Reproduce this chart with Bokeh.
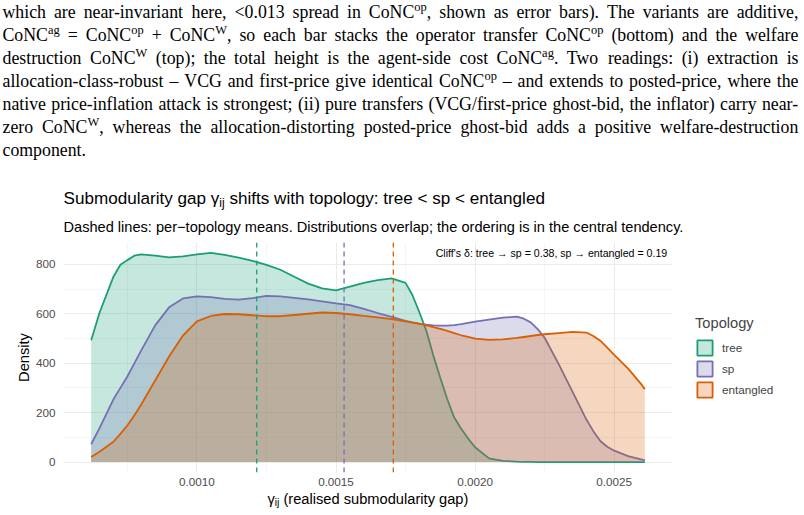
import re
from bokeh.plotting import figure
from bokeh.models import (Range1d, FixedTicker, Span, Legend, LegendItem, Label,
                          BoxAnnotation, ColumnDataSource, PrintfTickFormatter)
from bokeh.embed import file_html
from bokeh.resources import INLINE
from bokeh.core.properties import value, field

# ---------------- data ----------------
gamma = [0.00062, 0.00065, 0.00070, 0.000725, 0.00075, 0.000775, 0.00080, 0.00085, 0.00090, 0.00095,
         0.00100, 0.00105, 0.00110, 0.00115, 0.00120, 0.00125, 0.00130, 0.00135, 0.00140, 0.00145,
         0.00150, 0.00155, 0.00160, 0.00165, 0.00170, 0.00175, 0.001775, 0.00180, 0.001825, 0.00185,
         0.001875, 0.00190, 0.001925, 0.00195, 0.001975, 0.00200, 0.00205, 0.00210, 0.00215, 0.002175,
         0.00220, 0.002225, 0.00225, 0.00230, 0.00235, 0.00240, 0.002425, 0.00245, 0.002475, 0.00250,
         0.00255, 0.00260, 0.00261]
density_tree = [493, 604, 750, 798, 817, 835, 840, 835, 828, 832,
                840, 846, 838, 827, 814, 798, 778, 750, 722, 703,
                695, 710, 725, 736, 743, 725, 675, 605, 530, 430,
                340, 254, 180, 135, 95, 60, 15, 5, 2, 1,
                1, 0, 0, 0, 0, 0, 0, 0, 0, 0,
                0, 0, 0]
density_sp = [72, 137, 254, 300, 346, 399, 452, 553, 626, 662,
              670, 667, 660, 657, 663, 672, 670, 664, 658, 650,
              642, 635, 620, 603, 587, 571, 565, 560, 556, 553,
              552, 552, 554, 558, 563, 568, 576, 584, 588, 580,
              565, 538, 503, 397, 285, 172, 125, 85, 62, 46,
              24, 10, 8]
density_entangled = [20, 42, 82, 114, 148, 188, 233, 330, 427, 512,
                     569, 591, 599, 598, 594, 590, 590, 595, 600, 605,
                     603, 598, 591, 585, 578, 569, 564, 559, 553, 546,
                     539, 531, 522, 513, 506, 499, 494, 496, 502, 506,
                     510, 514, 517, 522, 527, 524, 510, 491, 463, 434,
                     378, 311, 295]
topologies = ["tree", "sp", "entangled"]
topology_means = [0.001215, 0.001529, 0.001706]
cliffs_pairs = ["tree \u2192 sp", "sp \u2192 entangled"]
cliffs_values = [0.38, 0.19]
x_ticks = [0.0010, 0.0015, 0.0020, 0.0025]
x_minor_ticks = [0.00075, 0.00125, 0.00175, 0.00225]
y_ticks = [0, 200, 400, 600, 800]
y_minor_ticks = [100, 300, 500, 700]

# ---------------- texts ----------------
PARAGRAPH_LINES = [
    "which are near-invariant here, <0.013 spread in CoNC^{op}, shown as error bars). The variants are additive,",
    "CoNC^{ag} = CoNC^{op} + CoNC^{W}, so each bar stacks the operator transfer CoNC^{op} (bottom) and the welfare",
    "destruction CoNC^{W} (top); the total height is the agent-side cost CoNC^{ag}. Two readings: (i) extraction is",
    "allocation-class-robust \u2013 VCG and first-price give identical CoNC^{op} \u2013 and extends to posted-price, where the",
    "native price-inflation attack is strongest; (ii) pure transfers (VCG/first-price ghost-bid, the inflator) carry near-",
    "zero CoNC^{W}, whereas the allocation-distorting posted-price ghost-bid adds a positive welfare-destruction",
    "component.",
]
TITLE_RUNS = [("Submodularity gap \u03b3", False), ("ij", True),
              (" shifts with topology: tree < sp < entangled", False)]
SUBTITLE_RUNS = [("Dashed lines: per\u2212topology means. Distributions overlap; the ordering is in the central tendency.", False)]
XLABEL_RUNS = [("\u03b3", False), ("ij", True), (" (realised submodularity gap)", False)]
YLABEL = "Density"
LEGEND_TITLE = "Topology"

# ---------------- styles / layout ----------------
COLORS = ["#1B9E77", "#7570B3", "#D95F02"]
W = 804
TOP_H, CHART_H, BOTTOM_H = 240, 251, 24
CHART_TOP_BORDER = 2
PANEL_L, PANEL_R = 63, 672          # ggplot panel in page pixels
SANS = "Liberation Sans"
SERIF = "Liberation Serif"
SANS_MID = 0.3465                   # em-box middle above baseline (Liberation Sans)
SERIF_MID = 0.3375                  # em-box middle above baseline (Liberation Serif)

TIMES = {' ': 250, '!': 333, '(': 333, ')': 333, '+': 564, ',': 250, '-': 333, '.': 250,
         '/': 278, ':': 278, ';': 278, '<': 564, '=': 564, '>': 564, "'": 180,
         '\u2013': 500, '\u2014': 1000,
         'A': 722, 'B': 667, 'C': 667, 'D': 722, 'E': 611, 'F': 556, 'G': 722, 'H': 722,
         'I': 333, 'J': 389, 'K': 722, 'L': 611, 'M': 889, 'N': 722, 'O': 722, 'P': 556,
         'Q': 722, 'R': 667, 'S': 556, 'T': 611, 'U': 722, 'V': 722, 'W': 944, 'X': 722,
         'Y': 722, 'Z': 611,
         'a': 444, 'b': 500, 'c': 444, 'd': 500, 'e': 444, 'f': 333, 'g': 500, 'h': 500,
         'i': 278, 'j': 278, 'k': 500, 'l': 278, 'm': 778, 'n': 500, 'o': 500, 'p': 500,
         'q': 500, 'r': 333, 's': 389, 't': 278, 'u': 500, 'v': 500, 'w': 722, 'x': 500,
         'y': 500, 'z': 444}
TIMES.update({str(d): 500 for d in range(10)})
ARIAL = {' ': 278, '(': 333, ')': 333, ',': 278, '-': 333, '.': 278, ':': 278, ';': 278,
         '<': 584, '=': 584, "'": 191, '\u2212': 584, '\u2192': 1000, '\u03b3': 500,
         '\u03b4': 556, 'C': 722, 'D': 722, 'S': 667, 'T': 611,
         'a': 556, 'b': 556, 'c': 500, 'd': 556, 'e': 556, 'f': 278, 'g': 556, 'h': 556,
         'i': 222, 'j': 222, 'k': 500, 'l': 222, 'm': 833, 'n': 556, 'o': 556, 'p': 556,
         'q': 556, 'r': 333, 's': 500, 't': 278, 'u': 556, 'v': 500, 'w': 722, 'x': 500,
         'y': 500, 'z': 500}
ARIAL.update({str(d): 556 for d in range(10)})


def tw(text, table, size):
    return sum(table.get(ch, 550) for ch in text) / 1000.0 * size


class TextBank:
    """Text runs in figure pixels; y is the vertical middle of each run's em box."""

    def __init__(self):
        self.x, self.y, self.t, self.s = [], [], [], []

    def add(self, X, Y, text, size):
        self.x.append(X)
        self.y.append(Y)
        self.t.append(text)
        self.s.append(f"{size:.2f}px")

    def runs(self, runs, x0, mid, size, sub_scale, sub_drop, table):
        x = x0
        for text, is_sub in runs:
            s = size * sub_scale if is_sub else size
            stripped = text.lstrip(" ")
            x += tw(text[:len(text) - len(stripped)], table, s)
            y = mid + (SANS_MID * (size - s) + sub_drop if is_sub else 0)
            self.add(x, y, stripped, s)
            x += tw(stripped, table, s)

    def draw(self, fig, font, color):
        src = ColumnDataSource(dict(x=self.x, y=self.y, t=self.t, s=self.s))
        fig.text(x="x", y="y", text="t", source=src, text_font=value(font),
                 text_font_size=field("s"), text_color=color,
                 text_baseline="middle", text_align="left")


def pixel_fig(h):
    f = figure(width=W, height=h, x_range=Range1d(0, W), y_range=Range1d(h, 0),
               output_backend="svg", toolbar_location=None,
               min_border_left=0, min_border_right=0, min_border_top=0, min_border_bottom=0,
               x_axis_type=None, y_axis_type=None, outline_line_color=None)
    f.grid.visible = False
    return f


# ---------------- top: paragraph, title, subtitle ----------------
top = pixel_fig(TOP_H)
para = TextBank()
PARA_SIZE, PARA_LEFT, PARA_RIGHT = 17.8, 2.0, 798.0
PARA_MID0, PARA_LEAD = 11.0, 23.0
SUP_SCALE, SUP_RISE = 0.7, 0.36
for i, line in enumerate(PARAGRAPH_LINES):
    words = []
    for w in line.split(" "):
        segs = []
        for part in re.split(r"(\^\{[^}]*\})", w):
            if not part:
                continue
            if part.startswith("^{"):
                segs.append((part[2:-1], True))
            else:
                segs.append((part, False))
        words.append(segs)
    size = PARA_SIZE

    def word_w(segs, size):
        return sum(tw(t, TIMES, size * SUP_SCALE if sup else size) for t, sup in segs)

    total = sum(word_w(ws, size) for ws in words)
    ngaps = len(words) - 1
    if i == len(PARAGRAPH_LINES) - 1 or ngaps == 0:
        gap = 0.25 * size
    else:
        gap = (PARA_RIGHT - PARA_LEFT - total) / ngaps
        while gap < 0.18 * size:
            size -= 0.1
            total = sum(word_w(ws, size) for ws in words)
            gap = (PARA_RIGHT - PARA_LEFT - total) / ngaps
    x = PARA_LEFT
    mid = PARA_MID0 + i * PARA_LEAD
    for ws in words:
        for t, sup in ws:
            s = size * SUP_SCALE if sup else size
            y = mid + (SERIF_MID * (size - s) - SUP_RISE * size if sup else 0)
            para.add(x, y, t, s)
            x += tw(t, TIMES, s)
        x += gap
para.draw(top, SERIF, "#000000")

heads = TextBank()
heads.runs(TITLE_RUNS, PANEL_L, 198.3, 17.1, 0.7, 2.8, ARIAL)
heads.runs(SUBTITLE_RUNS, PANEL_L, 226.7, 14.6, 0.7, 0, ARIAL)
heads.draw(top, SANS, "#000000")

# ---------------- chart ----------------
xlo, xhi = min(gamma), max(gamma)
xpad = 0.05 * (xhi - xlo)
x_start, x_panel_end = xlo - xpad, xhi + xpad
frame_w = W - PANEL_L
x_end = x_start + (x_panel_end - x_start) * frame_w / (PANEL_R - PANEL_L)
ymax = max(max(density_tree), max(density_sp), max(density_entangled))
ypad = 0.05 * ymax
FRAME_H = 230

p = figure(width=W, height=CHART_H,
           x_range=Range1d(x_start, x_end), y_range=Range1d(-ypad, ymax + ypad),
           output_backend="svg", toolbar_location=None,
           min_border_left=PANEL_L, min_border_right=0,
           min_border_top=CHART_TOP_BORDER, min_border_bottom=CHART_H - CHART_TOP_BORDER - FRAME_H,
           outline_line_color=None)

p.xaxis.ticker = FixedTicker(ticks=x_ticks, minor_ticks=x_minor_ticks)
p.yaxis.ticker = FixedTicker(ticks=y_ticks, minor_ticks=y_minor_ticks)
p.xaxis.formatter = PrintfTickFormatter(format="%.4f")
for ax in (p.xaxis, p.yaxis):
    ax.axis_line_color = None
    ax.major_tick_line_color = None
    ax.minor_tick_line_color = None
    ax.major_tick_out = 0
    ax.minor_tick_out = 0
    ax.major_label_text_font = SANS
    ax.major_label_text_font_size = "11.7px"
    ax.major_label_text_color = "#4D4D4D"
p.xaxis.major_label_standoff = 5
p.yaxis.major_label_standoff = 8
p.yaxis.axis_label = YLABEL
p.yaxis.axis_label_text_font = SANS
p.yaxis.axis_label_text_font_size = "14.67px"
p.yaxis.axis_label_text_font_style = "normal"
p.yaxis.axis_label_text_color = "#000000"
p.yaxis.axis_label_standoff = 1
p.grid.grid_line_color = "#EBEBEB"
p.grid.grid_line_width = 1.1
p.grid.minor_grid_line_color = "#EFEFEF"
p.grid.minor_grid_line_width = 0.6

# blank the area right of the panel (legend area) so grid lines stop at the panel edge
p.add_layout(BoxAnnotation(left=x_panel_end, fill_color="white", fill_alpha=1.0,
                           line_color=None, level="glyph"))

src = ColumnDataSource(dict(gamma=gamma, tree=density_tree, sp=density_sp,
                            entangled=density_entangled))
for name, col in zip(topologies, COLORS):
    p.varea(x="gamma", y1=0, y2=name, source=src, fill_color=col, fill_alpha=0.25)
    p.line(x="gamma", y=name, source=src, line_color=col, line_width=1.8)

legend_items = []
for name, col in zip(topologies, COLORS):
    key = p.quad(left=[min(gamma)], right=[max(gamma)], top=[max(src.data[name])], bottom=[0],
                 fill_color=col, fill_alpha=0.25, line_color=col, line_width=1.8,
                 visible=False)
    legend_items.append(LegendItem(label=name, renderers=[key]))

for m, col in zip(topology_means, COLORS):
    p.add_layout(Span(location=m, dimension="height", line_color=col,
                      line_width=1.3, line_dash="5 4"))

cliff_text = "Cliff's \u03b4: " + ", ".join(f"{a} = {v:.2f}" for a, v in zip(cliffs_pairs, cliffs_values))
p.add_layout(Label(x=PANEL_R - PANEL_L - 5.3, y=FRAME_H - 10.7,
                   x_units="screen", y_units="screen",
                   text=cliff_text, text_align="right", text_baseline="middle",
                   text_font=SANS, text_font_size="10.6px", text_color="#000000"))

legend = Legend(items=legend_items, title=LEGEND_TITLE,
                location=(695 - PANEL_L, 472 - 399),
                margin=0, padding=0, spacing=2, glyph_width=19, glyph_height=19,
                label_height=19, label_standoff=8, title_standoff=7,
                border_line_alpha=0, background_fill_alpha=0,
                label_text_font=SANS, label_text_font_size="11.7px",
                title_text_font=SANS, title_text_font_size="14.67px",
                title_text_font_style="normal")
p.add_layout(legend)

# ---------------- bottom: x axis title ----------------
bottom = pixel_fig(BOTTOM_H)
XL_SIZE = 14.67
full_w = sum(tw(t, ARIAL, XL_SIZE * (0.7 if s else 1)) for t, s in XLABEL_RUNS)
xl = TextBank()
xl.runs(XLABEL_RUNS, (PANEL_L + PANEL_R) / 2 - full_w / 2, 498.0 - (TOP_H + CHART_H),
        XL_SIZE, 0.7, 2.5, ARIAL)
xl.draw(bottom, SANS, "#000000")

open("out.html", "w").write(file_html([top, p, bottom], INLINE))
